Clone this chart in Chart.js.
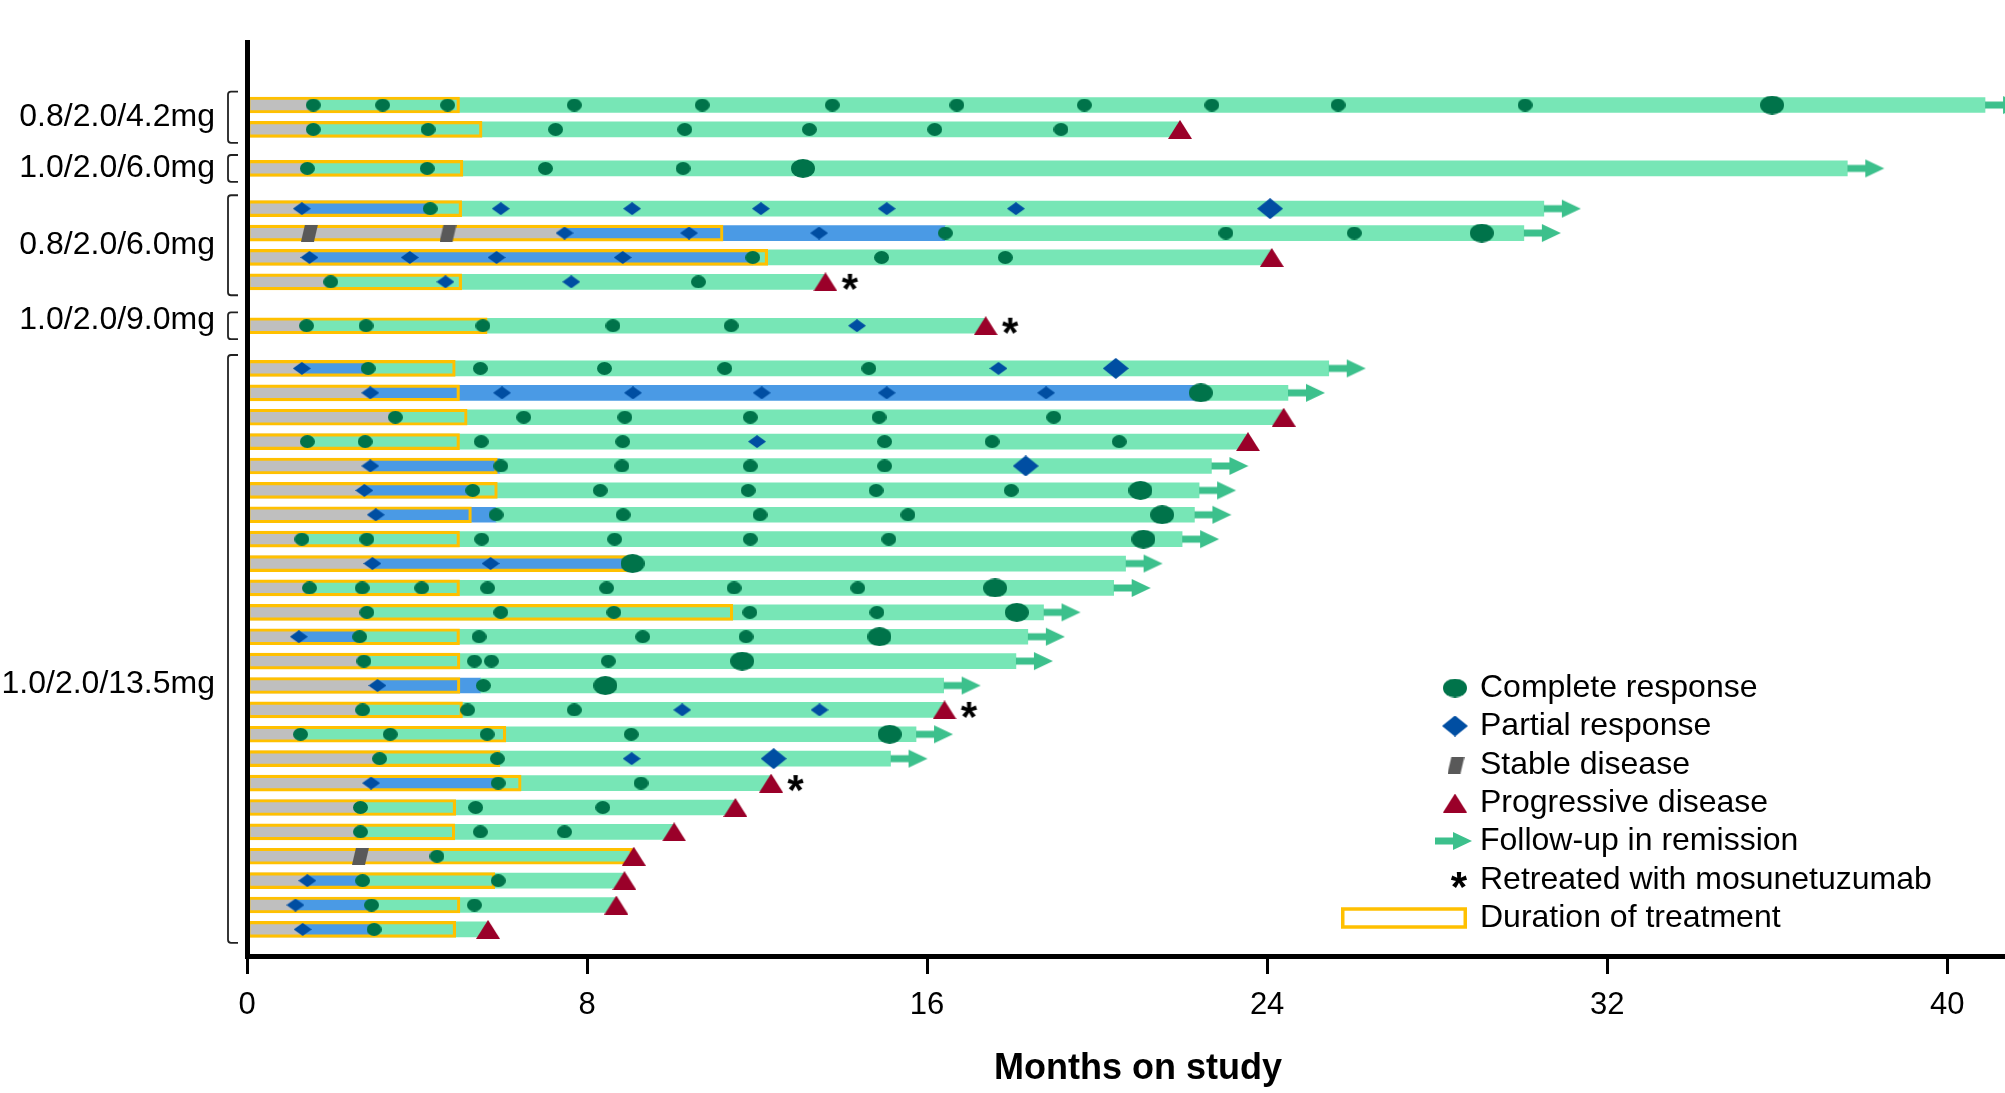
<!DOCTYPE html>
<html>
<head>
<meta charset="utf-8">
<script src="https://cdn.jsdelivr.net/npm/chart.js@4.4.1/dist/chart.umd.min.js"></script>
<style>
html, body { margin: 0; padding: 0; background: #fff; }
canvas { display: block; }
</style>
</head>
<body>
<canvas id="swim" width="2005" height="1093"></canvas>
<script>
// cohorts top to bottom, and how many patients (rows) each has
var doseGroups = ['0.8/2.0/4.2mg', '1.0/2.0/6.0mg', '0.8/2.0/6.0mg', '1.0/2.0/9.0mg', '1.0/2.0/13.5mg'];
var groupSize = [2, 1, 4, 1, 24];
var monthTicks = [0, 8, 16, 24, 32, 40];

// per patient, in months on study
var firstResponse = [1.56, 1.56, 1.42, 1.29, 7.45, 1.47, 1.97, 1.40,
  1.29, 2.90, 3.49, 1.42, 2.90, 2.76, 3.03, 1.29, 2.95, 1.47, 2.82, 1.22, 2.75, 3.07,
  2.72, 1.26, 3.12, 2.92, 2.67, 2.67, 4.47, 1.42, 1.14, 1.31];
var partialUntil = [1.56, 1.56, 1.42, 4.31, 16.43, 11.90, 1.97, 1.40,
  2.85, 22.44, 3.49, 1.42, 5.95, 5.31, 5.86, 1.29, 9.07, 1.47, 2.82, 2.65, 2.75, 5.50,
  2.72, 1.26, 3.12, 5.91, 2.67, 2.67, 4.47, 2.72, 2.93, 2.99];
var studyEnd = [40.89, 21.95, 37.65, 30.51, 30.04, 24.11, 13.61, 17.38,
  25.45, 24.49, 24.39, 23.55, 22.69, 22.40, 22.29, 22.00, 20.67, 20.39, 18.74, 18.37, 18.09, 16.39,
  16.41, 15.74, 15.14, 12.33, 11.49, 10.05, 9.10, 8.88, 8.69, 5.67];
var treatmentEnd = [5.00, 5.53, 5.08, 5.05, 11.20, 12.25, 5.05, 5.65,
  4.90, 5.00, 5.18, 5.00, 5.89, 5.89, 5.28, 5.00, 9.12, 5.00, 11.43, 5.00, 5.01, 5.01,
  5.07, 6.09, 5.95, 6.45, 4.91, 4.89, 9.07, 5.83, 5.01, 4.91];

var completeResp = [
  [1.56, 3.19, 4.72, 7.70, 10.71, 13.77, 16.70, 19.70, 22.70, 25.67, 30.07],
  [1.56, 4.26, 7.26, 10.30, 13.23, 16.18, 19.15],
  [1.42, 4.24, 7.02, 10.26],
  [4.31],
  [16.43, 23.03, 26.05],
  [11.90, 14.93, 17.84],
  [1.97, 10.62],
  [1.40, 2.80, 5.55, 8.61, 11.39],
  [2.85, 5.49, 8.41, 11.24, 14.63],
  [],
  [3.49, 6.51, 8.89, 11.84, 14.87, 18.98],
  [1.42, 2.78, 5.51, 8.84, 15.00, 17.53, 20.52],
  [5.97, 8.82, 11.84, 15.00],
  [5.31, 8.31, 11.79, 14.80, 17.98],
  [5.86, 8.85, 12.07, 15.55],
  [1.29, 2.82, 5.52, 8.65, 11.84, 15.10],
  [],
  [1.47, 2.71, 4.11, 5.66, 8.46, 11.46, 14.37],
  [2.82, 5.97, 8.63, 11.83, 14.82],
  [2.65, 5.46, 9.31, 11.74],
  [2.75, 5.35, 5.75, 8.50],
  [5.56],
  [2.72, 5.19, 7.70],
  [1.26, 3.37, 5.65, 9.04],
  [3.12, 5.89],
  [5.91, 9.27],
  [2.67, 5.38, 8.37],
  [2.67, 5.49, 7.47],
  [4.47],
  [2.72, 5.91],
  [2.93, 5.35],
  [2.99]
];
var completeRespLast = [35.88, null, 13.08, null, 29.05, null, null, null,
  null, 22.44, null, null, null, 21.02, 21.53, 21.09, 9.07, 17.60, 18.11, 14.88, 11.65, 8.43,
  null, 15.12, null, null, null, null, null, null, null, null];

var partialResp = [
  [], [], [],
  [1.29, 5.97, 9.06, 12.09, 15.05, 18.09],
  [7.47, 10.40, 13.46],
  [1.47, 3.83, 5.87, 8.84],
  [4.67, 7.63],
  [14.35],
  [1.29, 17.68],
  [2.90, 6.00, 9.08, 12.11, 15.05, 18.80],
  [], [12.00], [2.90], [2.76], [3.03], [],
  [2.95, 5.73],
  [], [], [1.22], [], [3.07],
  [10.24, 13.47],
  [], [9.05], [2.92], [], [], [], [1.42], [1.14], [1.31]
];
var partialRespLast = [null, null, null, 24.07, null, null, null, null,
  20.44, null, null, null, 18.32, null, null, null, null, null, null, null, null, null,
  null, null, 12.39, null, null, null, null, null, null, null];

var stableDisease = [[], [], [], [], [1.47, 4.73], [], [], [],
  [], [], [], [], [], [], [], [], [], [], [], [], [], [],
  [], [], [], [], [], [], [2.67], [], [], []];
var progression = [null, 21.95, null, null, null, 24.11, 13.61, 17.38,
  null, null, 24.39, 23.55, null, null, null, null, null, null, null, null, null, null,
  16.41, null, null, 12.33, 11.49, 10.05, 9.10, 8.88, 8.69, 5.67];
var retreated = [false, false, false, false, false, false, true, true,
  false, false, false, false, false, false, false, false, false, false, false, false, false, false,
  true, false, false, true, false, false, false, false, false, false];

var legendLabels = ['Complete response', 'Partial response', 'Stable disease', 'Progressive disease',
  'Follow-up in remission', 'Retreated with mosunetuzumab', 'Duration of treatment'];

var FONT = '"Liberation Sans", Arial, Helvetica, sans-serif';
var GREY = '#BFBFBF', BLUE_BAR = '#4A9AE5', GREEN_BAR = '#77E6B6', BOX = '#FFC000';
var CR_COL = '#00734A', PR_COL = '#004EA2', SD_COL = '#595959', PD_COL = '#9A0029', ARROW_COL = '#3CC08C';

// row position on the y scale: one unit per patient, extra space before each cohort
var groupOffset = [0, 0.6, 1.25, 2.05, 2.8];
var rowGroup = [];
groupSize.forEach(function (n, g) { for (var k = 0; k < n; k++) rowGroup.push(g); });
function rowY(i) { return i + groupOffset[rowGroup[i]]; }

function makeImg(w, h, draw) {
  var c = document.createElement('canvas');
  c.width = w; c.height = h;
  draw(c.getContext('2d'), w, h);
  return c;
}
function ellipse(w, h) {
  return makeImg(w, h, function (g) {
    g.fillStyle = CR_COL; g.beginPath();
    g.ellipse(w / 2, h / 2, w / 2, h / 2, 0, 0, Math.PI * 2); g.fill();
  });
}
function diamond(w, h) {
  return makeImg(w, h, function (g) {
    g.fillStyle = PR_COL; g.beginPath();
    g.moveTo(w / 2, 0); g.lineTo(w, h / 2); g.lineTo(w / 2, h); g.lineTo(0, h / 2);
    g.closePath(); g.fill();
  });
}
var crSmallImg = ellipse(15, 13), crBigImg = ellipse(24, 19);
var prSmallImg = diamond(18, 13), prBigImg = diamond(26, 21);
var sdImg = makeImg(17, 17, function (g) {
  g.fillStyle = SD_COL; g.beginPath();
  g.moveTo(4, 0); g.lineTo(17, 0); g.lineTo(13, 17); g.lineTo(0, 17); g.closePath(); g.fill();
});
var pdImg = makeImg(24, 19, function (g) {
  g.fillStyle = PD_COL; g.beginPath();
  g.moveTo(12, 0); g.lineTo(24, 19); g.lineTo(0, 19); g.closePath(); g.fill();
});
// arrow sits in the right half so that it starts at the point
var arrowImg = makeImg(76, 20, function (g) {
  g.fillStyle = ARROW_COL;
  g.fillRect(38, 6.5, 20, 7);
  g.beginPath(); g.moveTo(56, 1); g.lineTo(75, 10); g.lineTo(56, 19); g.closePath(); g.fill();
});
function drawStar(g, cx, cy) {
  g.fillStyle = '#000'; g.font = 'bold 42px ' + FONT; g.textAlign = 'center'; g.textBaseline = 'alphabetic';
  var m = g.measureText('*');
  g.fillText('*', cx, cy + (m.actualBoundingBoxAscent - m.actualBoundingBoxDescent) / 2);
}
// star drawn 24.5px right of the progression point
var starImg = makeImg(80, 40, function (g) { drawStar(g, 40 + 24.5, 20); });

function pointsFrom(list) {
  var pts = [];
  list.forEach(function (v, i) {
    if (v == null) return;
    (Array.isArray(v) ? v : [v]).forEach(function (m) { pts.push({ x: m, y: rowY(i) }); });
  });
  return pts;
}
function barSet(label, pts, color, order) {
  return {
    type: 'bar', label: label, data: pts, backgroundColor: color, borderWidth: 0,
    grouped: false, barPercentage: 1, categoryPercentage: 1, maxBarThickness: 15, order: order
  };
}
function markerSet(label, pts, img) {
  return { type: 'scatter', label: label, data: pts, pointStyle: img, pointRadius: 8, pointHoverRadius: 8, order: 1 };
}

var rows = firstResponse.map(function (v, i) { return i; });
var greyData = rows.map(function (i) { return { x: [0, firstResponse[i]], y: rowY(i) }; });
var blueData = rows.filter(function (i) { return partialUntil[i] > firstResponse[i]; })
  .map(function (i) { return { x: [firstResponse[i], partialUntil[i]], y: rowY(i) }; });
var greenData = rows.filter(function (i) { return studyEnd[i] > partialUntil[i]; })
  .map(function (i) { return { x: [partialUntil[i], studyEnd[i]], y: rowY(i) }; });
var boxData = rows.map(function (i) { return { x: [0, treatmentEnd[i]], y: rowY(i) }; });
var arrowData = pointsFrom(rows.map(function (i) { return progression[i] == null ? studyEnd[i] : null; }));
var starData = pointsFrom(rows.map(function (i) { return retreated[i] ? progression[i] : null; }));

var decor = {
  id: 'decor',
  afterDraw: function (chart) {
    var g = chart.ctx, ys = chart.scales.y;
    g.save();
    // cohort brackets and labels
    var start = 0;
    var nudge = [0, 0, 0, -0.23, 1.45];
    groupSize.forEach(function (n, k) {
      var top = ys.getPixelForValue(rowY(start) - 0.55);
      var bot = ys.getPixelForValue(rowY(start + n - 1) + 0.55);
      g.strokeStyle = '#222'; g.lineWidth = 1.8; g.beginPath();
      g.moveTo(238, top); g.lineTo(231, top); g.quadraticCurveTo(228, top, 228, top + 3);
      g.lineTo(228, bot - 3); g.quadraticCurveTo(228, bot, 231, bot); g.lineTo(238, bot); g.stroke();
      var mid = ys.getPixelForValue((rowY(start) + rowY(start + n - 1)) / 2 + nudge[k]);
      g.fillStyle = '#000'; g.font = '32px ' + FONT; g.textAlign = 'right'; g.textBaseline = 'middle';
      g.fillText(doseGroups[k], 215, mid);
      start += n;
    });
    // legend
    var ly = [688, 726, 765, 803, 841, 880, 918];
    g.drawImage(crBigImg, 1455 - 12, ly[0] - 9.5);
    g.drawImage(prBigImg, 1455 - 13, ly[1] - 10.5);
    g.drawImage(sdImg, 1456 - 8.5, ly[2] - 8.5);
    g.drawImage(pdImg, 1455 - 12, ly[3] - 9.5);
    g.drawImage(arrowImg, 1435 - 38, ly[4] - 10);
    drawStar(g, 1459, ly[5]);
    g.strokeStyle = BOX; g.lineWidth = 3.5;
    g.strokeRect(1342.75, ly[6] - 9, 122.5, 18);
    g.fillStyle = '#000'; g.font = '32px ' + FONT; g.textAlign = 'left'; g.textBaseline = 'middle';
    legendLabels.forEach(function (t, k) { g.fillText(t, 1480, ly[k]); });
    // axis title
    g.font = 'bold 36px ' + FONT; g.textAlign = 'center';
    g.fillText('Months on study', 1138, 1069);
    g.restore();
  }
};

new Chart(document.getElementById('swim'), {
  type: 'bar',
  data: {
    datasets: [
      markerSet('Complete response', pointsFrom(completeResp), crSmallImg),
      markerSet('Complete response (last)', pointsFrom(completeRespLast), crBigImg),
      markerSet('Partial response', pointsFrom(partialResp), prSmallImg),
      markerSet('Partial response (last)', pointsFrom(partialRespLast), prBigImg),
      markerSet('Stable disease', pointsFrom(stableDisease), sdImg),
      markerSet('Progressive disease', pointsFrom(progression), pdImg),
      markerSet('Follow-up in remission', arrowData, arrowImg),
      markerSet('Retreated with mosunetuzumab', starData, starImg),
      {
        type: 'bar', label: 'Duration of treatment', data: boxData,
        backgroundColor: 'rgba(0,0,0,0)', borderColor: BOX, borderWidth: 2.5, borderSkipped: false,
        grouped: false, barPercentage: 1, categoryPercentage: 1, maxBarThickness: 16, order: 2
      },
      barSet('In complete response', greenData, GREEN_BAR, 3),
      barSet('In partial response', blueData, BLUE_BAR, 3),
      barSet('Before response', greyData, GREY, 3)
    ]
  },
  options: {
    indexAxis: 'y',
    responsive: false,
    animation: false,
    devicePixelRatio: 1,
    layout: { autoPadding: false, padding: { top: 42, left: 0, right: 0, bottom: 0 } },
    plugins: { legend: { display: false }, tooltip: { enabled: false } },
    scales: {
      x: {
        type: 'linear', min: 0, max: 41.36,
        afterBuildTicks: function (s) { s.ticks = monthTicks.map(function (v) { return { value: v }; }); },
        afterFit: function (s) { s.height = 137; s.paddingLeft = 0; s.paddingRight = 0; },
        grid: { display: true, drawOnChartArea: false, drawTicks: true, tickLength: 18, tickWidth: 3, tickColor: '#000' },
        border: { display: true, color: '#000', width: 5, z: 1 },
        ticks: { color: '#000', font: { family: FONT, size: 31 }, padding: 13, maxRotation: 0 }
      },
      y: {
        type: 'linear', reverse: true, min: -2.583, max: 34.89, offset: false,
        afterFit: function (s) { s.width = 247; },
        ticks: { display: false },
        grid: { display: true, drawOnChartArea: false, drawTicks: false },
        border: { display: true, color: '#000', width: 5, z: 1 }
      }
    }
  },
  plugins: [decor]
});
</script>
</body>
</html>
